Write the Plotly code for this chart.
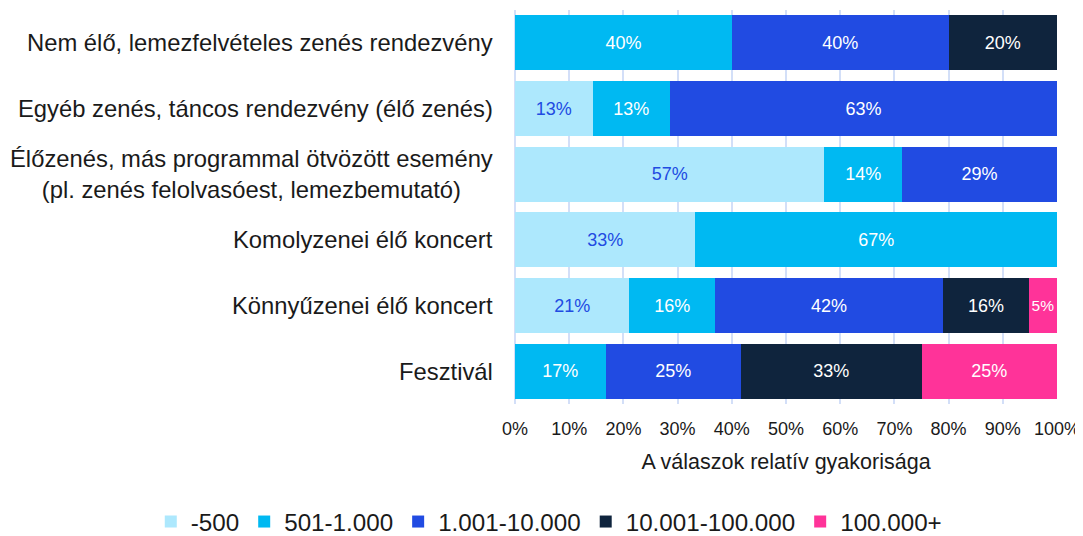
import plotly.graph_objects as go

categories = [
    "Nem élő, lemezfelvételes zenés rendezvény",
    "Egyéb zenés, táncos rendezvény (élő zenés)",
    "Élőzenés, más programmal ötvözött esemény<br>(pl. zenés felolvasóest, lemezbemutató)",
    "Komolyzenei élő koncert",
    "Könnyűzenei élő koncert",
    "Fesztivál",
]

series_names = ["-500", "501-1.000", "1.001-10.000", "10.001-100.000", "100.000+"]

# bar shares (% of the bar)
s_500 = [None, 14.3, 57.1, 33.3, 21.1, None]
s_1000 = [40.0, 14.3, 14.3, 66.7, 15.8, 16.7]
s_10000 = [40.0, 71.4, 28.6, None, 42.1, 25.0]
s_100000 = [20.0, None, None, None, 15.8, 33.3]
s_more = [None, None, None, None, 5.2, 25.0]

# labels shown in the bars
t_500 = ["", "13%", "57%", "33%", "21%", ""]
t_1000 = ["40%", "13%", "14%", "67%", "16%", "17%"]
t_10000 = ["40%", "63%", "29%", "", "42%", "25%"]
t_100000 = ["20%", "", "", "", "16%", "33%"]
t_more = ["", "", "", "", "5%", "25%"]

colors = ["#ADE8FD", "#00B9F2", "#214BE2", "#0F243D", "#FF3399"]
text_colors = ["#214BE2", "white", "white", "white", "white"]
label_sizes = [18, 18, 18, 18, [18, 18, 18, 18, 15.5, 18]]

values = [s_500, s_1000, s_10000, s_100000, s_more]
texts = [t_500, t_1000, t_10000, t_100000, t_more]

FONT = "Liberation Sans, Arial, sans-serif"

fig = go.Figure()
for name, vals, txt, col, tcol, tsz in zip(series_names, values, texts, colors,
                                          text_colors, label_sizes):
    fig.add_trace(go.Bar(
        y=categories, x=vals, name=name, orientation="h",
        marker=dict(color=col, line=dict(width=0)),
        text=txt, textposition="inside", insidetextanchor="middle",
        textangle=0, constraintext="none",
        textfont=dict(family=FONT, size=tsz, color=tcol),
        hoverinfo="skip",
    ))

for c in categories:
    fig.add_annotation(
        x=0, xref="paper", y=c, yref="y", xanchor="right", yanchor="middle",
        xshift=-20, text=c, showarrow=False, align="center",
        font=dict(family=FONT, size=23.8, color="#1a1a1a"),
    )

grid = "#D3DFF8"
fig.update_layout(
    barmode="stack", bargap=0.167,
    width=1075, height=528,
    margin=dict(l=507, r=26, t=1.5, b=131.5, autoexpand=False),
    paper_bgcolor="white", plot_bgcolor="white",
    font=dict(family=FONT, color="#1a1a1a"),
    xaxis=dict(
        range=[0, 100], dtick=10, ticksuffix="%",
        showgrid=True, gridcolor=grid, gridwidth=1.5,
        zeroline=True, zerolinecolor=grid, zerolinewidth=1.5,
        tickfont=dict(family=FONT, size=18, color="#1a1a1a"),
        ticks="outside", ticklen=8, tickcolor="rgba(0,0,0,0)",
        automargin=False,
        title=dict(text="A válaszok relatív gyakorisága",
                   font=dict(family=FONT, size=21.5, color="#1a1a1a"), standoff=16),
        fixedrange=True,
    ),
    yaxis=dict(
        autorange="reversed", showticklabels=False, showgrid=False,
        zeroline=False, ticks="", fixedrange=True, automargin=False,
    ),
    legend=dict(
        orientation="h", xref="paper", yref="paper",
        x=-0.672, xanchor="left", y=-0.299, yanchor="middle",
        font=dict(family=FONT, size=24.2, color="#1a1a1a"),
        traceorder="normal", itemclick=False, itemdoubleclick=False,
    ),
    showlegend=True,
)

fig.write_html("out.html")
